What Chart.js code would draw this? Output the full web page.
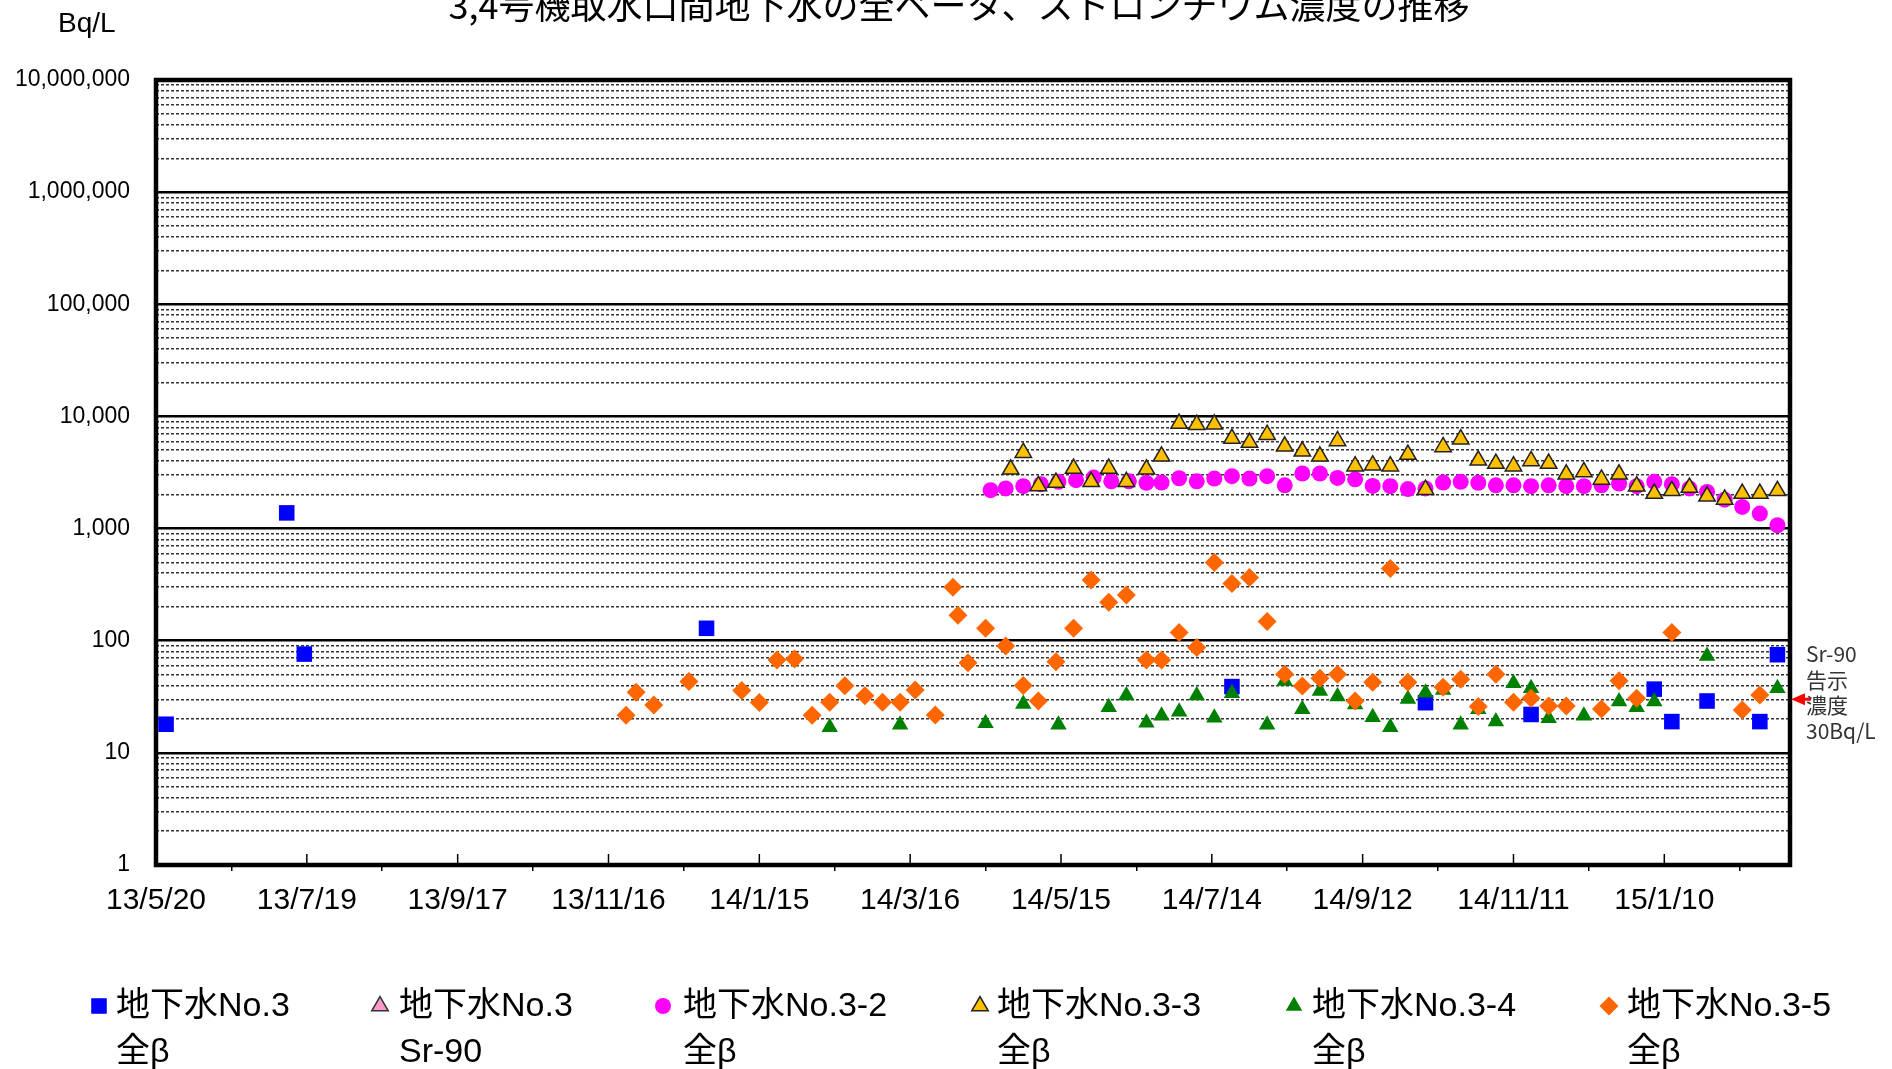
<!DOCTYPE html>
<html>
<head>
<meta charset="utf-8">
<script src="https://cdn.jsdelivr.net/npm/chart.js@4.4.1/dist/chart.umd.min.js"></script>
<style>
  html, body { margin: 0; padding: 0; background: #fff; }
  #wrap { width: 1892px; height: 1069px; }
</style>
</head>
<body>
<div id="wrap"><canvas id="chart" width="1892" height="1069"></canvas></div>
<script>
// x values are days counted from 2013/5/20
const xTickLabels = ['13/5/20', '13/7/19', '13/9/17', '13/11/16', '14/1/15', '14/3/16', '14/5/15', '14/7/14', '14/9/12', '14/11/11', '15/1/10'];
const xMaxDay = 650;
const yMajorTicks = [1, 10, 100, 1000, 10000, 100000, 1000000, 10000000];
const yMinorSteps = [2, 3, 4, 5, 6, 7, 8, 9];

const titleText = '3,4号機取水口間地下水の全ベータ、ストロンチウム濃度の推移';
const unitText = 'Bq/L';
const noteLines = ['Sr-90', '告示', '濃度', '30Bq/L'];
const noteLevel = 30;

// 地下水No.3 全β
const no3Days = [4, 52, 59, 219, 428, 505, 547, 596, 603, 617, 638, 645];
const no3Values = [18, 1380, 76, 129, 39, 28, 22, 37, 19, 29, 19, 75];

// 地下水No.3 Sr-90 (no points shown)
const no3SrDays = [];
const no3SrValues = [];

// 地下水No.3-2 全β
const no32Days = [332, 338, 345, 352, 359, 366, 373, 380, 387, 394,
  400, 407, 414, 421, 428, 435, 442, 449, 456, 463,
  470, 477, 484, 491, 498, 505, 512, 519, 526, 533,
  540, 547, 554, 561, 568, 575, 582, 589, 596, 603,
  610, 617, 624, 631, 638, 645];
const no32Values = [2200, 2280, 2390, 2490, 2610, 2700, 2850, 2640, 2640, 2560,
  2570, 2810, 2640, 2790, 2930, 2790, 2930, 2430, 3100, 3100,
  2830, 2750, 2400, 2390, 2250, 2280, 2570, 2610, 2560, 2430,
  2430, 2390, 2430, 2390, 2390, 2430, 2520, 2390, 2610, 2490,
  2280, 2120, 1810, 1560, 1360, 1070];

// 地下水No.3-3 全β
const no33Days = [340, 345, 351, 358, 365, 372, 379, 386, 394, 400,
  407, 414, 421, 428, 435, 442, 449, 456, 463, 470,
  477, 484, 491, 498, 505, 512, 519, 526, 533, 540,
  547, 554, 561, 568, 575, 582, 589, 596, 603, 610,
  617, 624, 631, 638, 645];
const no33Values = [3380, 4750, 2400, 2570, 3430, 2610, 3430, 2610, 3380, 4410,
  8630, 8450, 8510, 6340, 5840, 6870, 5410, 4890, 4410, 6040,
  3600, 3670, 3600, 4570, 2220, 5350, 6270, 4060, 3800, 3600,
  4010, 3800, 3050, 3200, 2740, 3050, 2390, 2050, 2170, 2320,
  1940, 1820, 2050, 2050, 2170];

// 地下水No.3-4 全β
const no34Days = [268, 296, 330, 345, 359, 379, 386, 394, 400, 407,
  414, 421, 428, 442, 449, 456, 463, 470, 477, 484,
  491, 498, 505, 512, 519, 526, 533, 540, 547, 554,
  568, 582, 589, 596, 617, 645];
const no34Values = [16.9, 17.8, 18.4, 27.3, 17.8, 25.5, 32.4, 18.6, 21.4, 23.3,
  32.4, 20.6, 34, 17.8, 43.8, 24.5, 35.7, 31.8, 27, 20.8,
  16.9, 30.2, 34.4, 36.3, 17.8, 24.5, 19, 41.7, 37.7, 20.4,
  21.4, 28.7, 25.5, 28.7, 73.1, 37.7];

// 地下水No.3-5 全β
const no35Days = [187, 191, 198, 212, 233, 240, 247, 254, 261, 268,
  274, 282, 289, 296, 302, 310, 317, 319, 323, 330,
  338, 345, 351, 358, 365, 372, 379, 386, 394, 400,
  407, 414, 421, 428, 435, 442, 449, 456, 463, 470,
  477, 484, 491, 498, 512, 519, 526, 533, 540, 547,
  554, 561, 575, 582, 589, 603, 631, 638];
const no35Values = [21.6, 34.7, 26.7, 43.2, 35.9, 28.1, 67.3, 68.7, 21.6, 28.3,
  39.7, 32.3, 28.3, 28.3, 36.4, 21.8, 299, 169, 63.7, 129,
  89.7, 39.8, 29, 65, 129, 348, 220, 256, 67.3, 67.3,
  118.5, 87, 499, 324, 367, 148, 50.2, 39.5, 46.2, 50.2,
  29, 42.6, 441, 42.6, 38.4, 45.3, 25.9, 50.2, 28.3, 30.7,
  26.2, 26.2, 24.6, 44, 30.7, 118.6, 24.1, 32.8];

const toPoints = (days, values) => days.map((d, i) => ({ x: d, y: values[i] }));

const series = [
  { name: ['地下水No.3', '全β'], data: toPoints(no3Days, no3Values), style: 'rect', r: 11, fill: '#0000FF', line: '#0000FF', bw: 0, order: 5 },
  { name: ['地下水No.3', 'Sr-90'], data: toPoints(no3SrDays, no3SrValues), style: 'triangle', r: 9.5, fill: '#FF99CC', line: '#333333', bw: 1.5, order: 4 },
  { name: ['地下水No.3-2', '全β'], data: toPoints(no32Days, no32Values), style: 'circle', r: 8, fill: '#FF00FF', line: '#FF00FF', bw: 0, order: 3 },
  { name: ['地下水No.3-3', '全β'], data: toPoints(no33Days, no33Values), style: 'triangle', r: 9.5, fill: '#FFC000', line: '#222222', bw: 1.5, order: 2 },
  { name: ['地下水No.3-4', '全β'], data: toPoints(no34Days, no34Values), style: 'triangle', r: 9.5, fill: '#008000', line: '#008000', bw: 0, order: 1 },
  { name: ['地下水No.3-5', '全β'], data: toPoints(no35Days, no35Values), style: 'rectRot', r: 9.5, fill: '#FF6600', line: '#FF6600', bw: 0, order: 0 }
];

const legendMarkerX = [99, 380, 663, 980, 1294, 1609];
const legendTextX = [116, 399, 683, 997, 1312, 1627];

const isMajorY = v => yMajorTicks.includes(v);

const decorPlugin = {
  id: 'decor',
  beforeDatasetsDraw(chart) {
    const { ctx, chartArea: a } = chart;
    const xs = chart.scales.x;
    ctx.save();
    ctx.strokeStyle = '#000';
    ctx.lineWidth = 1.5;
    xTickLabels.forEach((_, i) => {
      const px = xs.getPixelForValue(i * 60);
      ctx.beginPath();
      ctx.moveTo(px, a.bottom);
      ctx.lineTo(px, a.bottom - 11);
      ctx.stroke();
    });
    ctx.lineWidth = 4.5;
    ctx.strokeRect(a.left, a.top, a.right - a.left, a.bottom - a.top);
    ctx.restore();
  },
  afterDraw(chart) {
    const { ctx, chartArea: a } = chart;
    const ys = chart.scales.y;
    ctx.save();
    ctx.fillStyle = '#000';

    // title (runs off the top edge)
    ctx.font = "36px 'Noto Sans CJK JP'";
    ctx.textAlign = 'center';
    ctx.textBaseline = 'alphabetic';
    ctx.fillText(titleText, 959, 19);

    ctx.font = "28px 'Liberation Sans', 'Noto Sans CJK JP'";
    ctx.textAlign = 'left';
    ctx.textBaseline = 'middle';
    ctx.fillText(unitText, 58, 24);

    // legend
    series.forEach((s, i) => {
      ctx.fillStyle = s.fill;
      ctx.strokeStyle = s.line;
      ctx.lineWidth = s.bw || 1;
      Chart.helpers.drawPoint(ctx, { pointStyle: s.style, radius: s.r, rotation: 0, borderWidth: s.bw }, legendMarkerX[i], 1006);
      ctx.fillStyle = '#000';
      ctx.font = "34px 'Liberation Sans', 'Noto Sans CJK JP'";
      ctx.fillText(s.name[0], legendTextX[i], 1007);
      ctx.fillText(s.name[1], legendTextX[i], 1053);
    });

    // Sr-90 notice level marker
    const yl = ys.getPixelForValue(noteLevel);
    ctx.fillStyle = '#FF0000';
    ctx.beginPath();
    ctx.moveTo(a.right + 1, yl);
    ctx.lineTo(a.right + 15, yl - 6);
    ctx.lineTo(a.right + 15, yl - 1.5);
    ctx.lineTo(a.right + 21, yl - 1.5);
    ctx.lineTo(a.right + 21, yl + 1.5);
    ctx.lineTo(a.right + 15, yl + 1.5);
    ctx.lineTo(a.right + 15, yl + 6);
    ctx.closePath();
    ctx.fill();

    ctx.fillStyle = '#333';
    ctx.font = "21px 'Noto Sans CJK JP'";
    noteLines.forEach((t, i) => ctx.fillText(t, 1806, 654 + i * 25.7));
    ctx.restore();
  }
};

Chart.defaults.font.family = "'Liberation Sans', Arial, sans-serif";
Chart.defaults.color = '#000';

new Chart(document.getElementById('chart'), {
  type: 'scatter',
  data: {
    datasets: series.map(s => ({
      label: s.name.join(' '),
      data: s.data,
      pointStyle: s.style,
      pointRadius: s.r,
      pointHoverRadius: s.r,
      backgroundColor: s.fill,
      borderColor: s.line,
      borderWidth: s.bw,
      order: s.order,
      clip: false
    }))
  },
  options: {
    responsive: false,
    animation: false,
    layout: { padding: { top: 80, right: 102, bottom: 0, left: 0 } },
    plugins: {
      legend: { display: false },
      tooltip: { enabled: false }
    },
    scales: {
      x: {
        type: 'linear',
        min: 0,
        max: xMaxDay,
        afterBuildTicks(scale) {
          const ticks = [];
          for (let d = 0; d <= xMaxDay - 20; d += 30) ticks.push({ value: d });
          scale.ticks = ticks;
        },
        afterFit(scale) { scale.height = 204; },
        border: { display: false },
        grid: {
          drawOnChartArea: false,
          drawTicks: true,
          tickLength: 6,
          lineWidth: 1.5,
          color: ctx => (ctx.tick && ctx.tick.value % 60 === 0) ? 'rgba(0,0,0,0)' : '#000',
          tickColor: ctx => (ctx.tick && ctx.tick.value % 60 === 0) ? 'rgba(0,0,0,0)' : '#000'
        },
        ticks: {
          autoSkip: false,
          maxRotation: 0,
          padding: 12,
          font: { size: 30 },
          callback: v => (v % 60 === 0 ? xTickLabels[v / 60] : '')
        }
      },
      y: {
        type: 'logarithmic',
        min: 1,
        max: 10000000,
        afterBuildTicks(scale) {
          const ticks = [];
          yMajorTicks.forEach((m, i) => {
            ticks.push({ value: m });
            if (i < yMajorTicks.length - 1) yMinorSteps.forEach(k => ticks.push({ value: m * k }));
          });
          scale.ticks = ticks;
        },
        afterFit(scale) { scale.width = 156; },
        border: {
          display: false,
          dash: ctx => (ctx.tick && !isMajorY(ctx.tick.value)) ? [3, 2] : []
        },
        grid: {
          drawTicks: false,
          color: ctx => (ctx.tick && isMajorY(ctx.tick.value)) ? '#000' : '#333',
          lineWidth: ctx => (ctx.tick && isMajorY(ctx.tick.value)) ? 2.6 : 1.5
        },
        ticks: {
          autoSkip: false,
          padding: 26,
          font: { size: 23 },
          callback: v => (isMajorY(v) ? v.toLocaleString('en-US') : '')
        }
      }
    }
  },
  plugins: [decorPlugin]
});
</script>
</body>
</html>
